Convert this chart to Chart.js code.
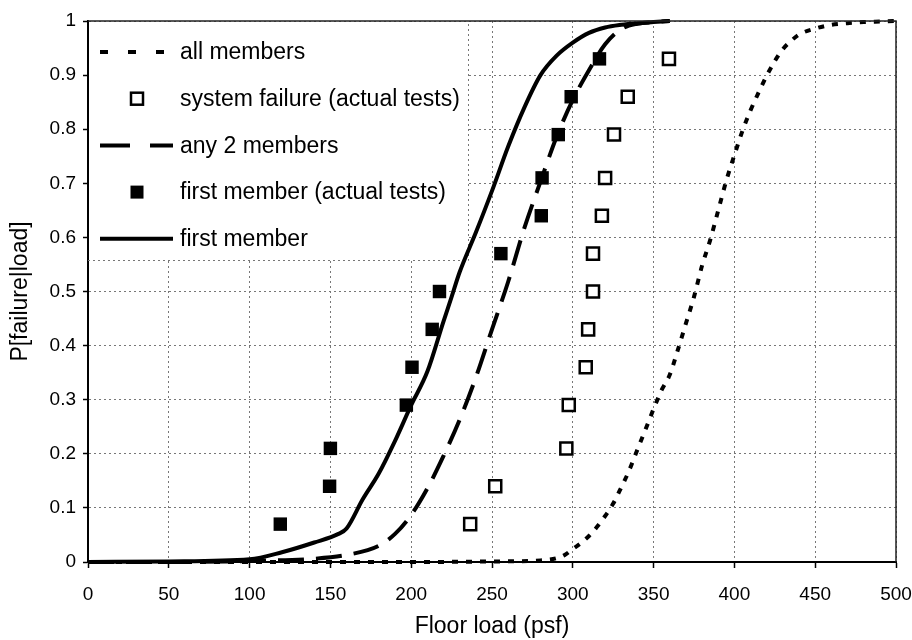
<!DOCTYPE html>
<html><head><meta charset="utf-8">
<script src="https://cdn.jsdelivr.net/npm/chart.js@4/dist/chart.umd.min.js"></script>
<style>html,body{margin:0;padding:0;background:#fff}</style>
</head><body>
<canvas id="c" width="912" height="640" style="display:block;width:912px;height:640px"></canvas>
<script>
// ---------- data ----------
const xTicks = [0, 50, 100, 150, 200, 250, 300, 350, 400, 450, 500];
const yTicks = [0, 0.1, 0.2, 0.3, 0.4, 0.5, 0.6, 0.7, 0.8, 0.9, 1];

const seriesNames = ['all members', 'system failure (actual tests)', 'any 2 members', 'first member (actual tests)', 'first member'];

const allMembersLoad = [0, 50, 100, 150, 200, 250, 280, 290, 295, 300, 305, 310, 315, 320, 325, 330, 335, 340, 345, 350, 355, 360, 365, 370, 375, 380, 385, 390, 395, 400, 405, 410, 415, 420, 425, 430, 435, 440, 450, 460, 470, 480, 490, 500];
const allMembersP    = [0, 0, 0, 0, 0, 0.001, 0.003, 0.007, 0.013, 0.024, 0.035, 0.048, 0.065, 0.085, 0.108, 0.138, 0.17, 0.208, 0.245, 0.283, 0.318, 0.346, 0.392, 0.441, 0.49, 0.548, 0.595, 0.65, 0.705, 0.752, 0.797, 0.835, 0.868, 0.899, 0.926, 0.948, 0.963, 0.975, 0.986, 0.993, 0.996, 0.998, 0.999, 1];

const any2Load = [0, 50, 100, 140, 160, 180, 190, 200, 210, 220, 230, 240, 250, 260, 270, 280, 290, 300, 310, 320, 330, 340, 350, 360];
const any2P    = [0, 0, 0.002, 0.006, 0.013, 0.03, 0.052, 0.087, 0.136, 0.196, 0.263, 0.341, 0.43, 0.518, 0.617, 0.703, 0.786, 0.854, 0.909, 0.957, 0.985, 0.995, 0.998, 1];

const firstMemberLoad = [0, 50, 100, 120, 140, 155, 160, 170, 180, 190, 200, 210, 220, 225, 230, 240, 250, 260, 270, 280, 290, 300, 310, 320, 330, 340, 350, 360];
const firstMemberP    = [0, 0.001, 0.005, 0.018, 0.036, 0.052, 0.062, 0.116, 0.164, 0.224, 0.29, 0.352, 0.445, 0.49, 0.536, 0.609, 0.686, 0.768, 0.84, 0.9, 0.936, 0.96, 0.978, 0.988, 0.993, 0.996, 0.998, 1];

const firstTestLoad = [119, 149.5, 150, 197, 200.5, 213, 217.5, 255.5, 280.5, 281, 291, 299, 316.5];
const firstTestP    = [0.07, 0.14, 0.21, 0.29, 0.36, 0.43, 0.5, 0.57, 0.64, 0.71, 0.79, 0.86, 0.93];

const systemTestLoad = [236.5, 252, 296, 297.5, 308, 309.5, 312.5, 312.5, 318, 320, 325.5, 334, 359.5];
const systemTestP    = [0.07, 0.14, 0.21, 0.29, 0.36, 0.43, 0.5, 0.57, 0.64, 0.71, 0.79, 0.86, 0.93];

// ---------- helpers ----------
const pts = (xs, ys) => xs.map((x, i) => ({ x: x, y: ys[i] }));
const FONT = '"Liberation Sans", Arial, sans-serif';

const legendStyles = [
  { kind: 'line', dash: [8, 20], width: 4 },
  { kind: 'open' },
  { kind: 'line', dash: [30, 20], width: 4 },
  { kind: 'filled' },
  { kind: 'line', dash: [], width: 4 }
];

const insideLegend = {
  id: 'insideLegend',
  beforeDatasetsDraw(chart) {
    const ctx = chart.ctx, a = chart.chartArea;
    const w = 380, h = 239;
    ctx.save();
    ctx.fillStyle = '#fff';
    ctx.fillRect(a.left + 1, a.top + 1, w - 1, h - 1);
    ctx.strokeStyle = '#777';
    ctx.lineWidth = 1;
    ctx.setLineDash([2, 3]);
    ctx.beginPath();
    ctx.moveTo(a.left, a.top + h + 0.5);
    ctx.lineTo(a.left + w + 0.5, a.top + h + 0.5);
    ctx.lineTo(a.left + w + 0.5, a.top);
    ctx.stroke();
    ctx.setLineDash([]);
    ctx.font = '23px ' + FONT;
    ctx.fillStyle = '#000';
    ctx.textBaseline = 'middle';
    ctx.textAlign = 'left';
    seriesNames.forEach((name, i) => {
      const cy = a.top + 31 + i * 46.7;
      const st = legendStyles[i];
      const sx0 = a.left + 12, sx1 = a.left + 85, mx = a.left + 49;
      ctx.strokeStyle = '#000';
      if (st.kind === 'line') {
        ctx.lineWidth = st.width;
        ctx.setLineDash(st.dash);
        ctx.beginPath(); ctx.moveTo(sx0, cy); ctx.lineTo(sx1, cy); ctx.stroke();
        ctx.setLineDash([]);
      } else if (st.kind === 'open') {
        ctx.lineWidth = 2.5;
        ctx.strokeRect(mx - 6, cy - 6, 12, 12);
      } else {
        ctx.fillRect(mx - 6.5, cy - 6.5, 13, 13);
      }
      ctx.fillText(name, a.left + 92, cy + 1);
    });
    ctx.restore();
  },
  afterDatasetsDraw(chart) {
    const ctx = chart.ctx, a = chart.chartArea;
    ctx.save();
    ctx.strokeStyle = '#222';
    ctx.lineWidth = 1.5;
    ctx.beginPath();
    ctx.moveTo(a.left, a.top);
    ctx.lineTo(a.right, a.top);
    ctx.lineTo(a.right, a.bottom);
    ctx.stroke();
    ctx.restore();
  }
};

const lineDS = (label, xs, ys, dash) => ({
  label, data: pts(xs, ys), showLine: true, borderColor: '#000', backgroundColor: '#000',
  borderWidth: 4, borderDash: dash, borderCapStyle: 'butt', pointRadius: 0, pointHoverRadius: 0,
  cubicInterpolationMode: 'monotone', clip: false
});

new Chart(document.getElementById('c'), {
  type: 'scatter',
  data: {
    datasets: [
      { label: seriesNames[3], data: pts(firstTestLoad, firstTestP), pointStyle: 'rect', pointRadius: 9.5,
        pointBackgroundColor: '#000', pointBorderColor: '#000', pointBorderWidth: 0, showLine: false, clip: false },
      { label: seriesNames[1], data: pts(systemTestLoad, systemTestP), pointStyle: 'rect', pointRadius: 8.5,
        pointBackgroundColor: '#fff', pointBorderColor: '#000', pointBorderWidth: 2.5, showLine: false, clip: false },
      lineDS(seriesNames[4], firstMemberLoad, firstMemberP, []),
      lineDS(seriesNames[2], any2Load, any2P, [26, 12]),
      lineDS(seriesNames[0], allMembersLoad, allMembersP, [6, 8])
    ]
  },
  options: {
    responsive: false,
    devicePixelRatio: 1,
    animation: false,
    layout: { padding: { top: 21, right: 16, bottom: 0, left: 0 } },
    plugins: { legend: { display: false }, tooltip: { enabled: false } },
    scales: {
      x: {
        type: 'linear', min: 0, max: 500,
        afterBuildTicks: s => { s.ticks = xTicks.map(v => ({ value: v })); },
        afterFit: s => { s.height = 78; s.paddingRight = 0; s.paddingLeft = 0; },
        ticks: { font: { family: FONT, size: 19 }, color: '#000', padding: 15, maxRotation: 0,
                 callback: v => String(v) },
        grid: { color: '#777', lineWidth: 1, tickColor: '#000', tickLength: 6, tickWidth: 1.5 },
        border: { display: true, color: '#000', width: 2, dash: [2, 3] },
        title: { display: true, text: 'Floor load (psf)', font: { family: FONT, size: 23 }, color: '#000', padding: { top: 0, bottom: 0 } }
      },
      y: {
        type: 'linear', min: 0, max: 1,
        afterBuildTicks: s => { s.ticks = yTicks.map(v => ({ value: v })); },
        afterFit: s => { s.width = 88; s.paddingTop = 0; s.paddingBottom = 0; },
        ticks: { font: { family: FONT, size: 19 }, color: '#000', padding: 7,
                 callback: v => String(Math.round(v * 10) / 10) },
        grid: { color: '#777', lineWidth: 1, tickColor: '#000', tickLength: 5, tickWidth: 1.5 },
        border: { display: true, color: '#000', width: 2, dash: [2, 3] },
        title: { display: true, text: 'P[failure|load]', font: { family: FONT, size: 23 }, color: '#000', padding: { top: 7, bottom: 0 } }
      }
    }
  },
  plugins: [insideLegend]
});
</script>
</body></html>
